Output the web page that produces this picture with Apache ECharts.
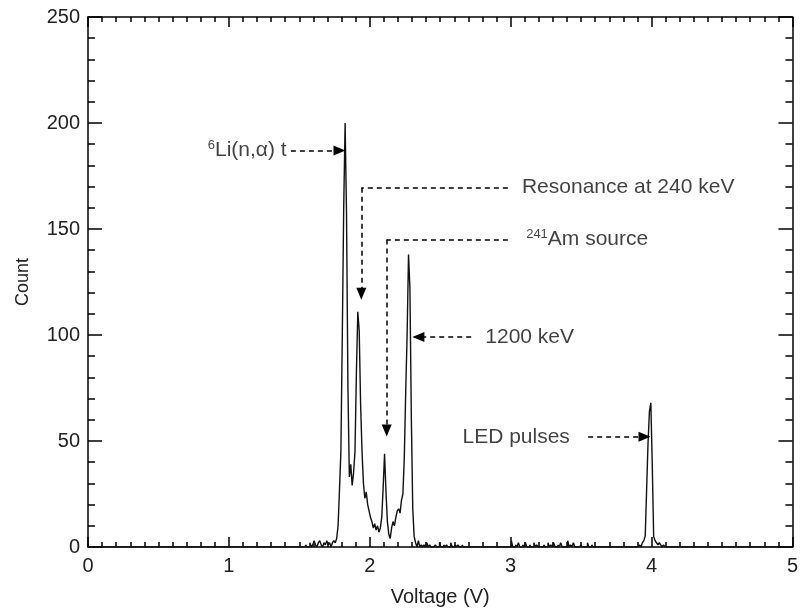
<!DOCTYPE html>
<html>
<head>
<meta charset="utf-8">
<script src="https://cdn.jsdelivr.net/npm/echarts@6/dist/echarts.min.js"></script>
<style>
html,body{margin:0;padding:0;background:#fff;}
#chart{width:801px;height:612px;}
</style>
</head>
<body>
<div id="chart"></div>
<script>
// Histogram bins (bin centre voltage, V) with non-zero counts; all other bins are empty (0)
const binVoltage = [
  1.55,1.58,1.60,1.61,1.62,1.64,1.65,1.66,1.68,1.69,1.70,1.71,1.72,1.74,1.75,1.76,
  1.77,1.78,1.79,1.80,1.81,1.82,1.83,1.84,1.85,1.86,1.87,1.88,1.89,1.90,
  1.91,1.92,1.93,1.94,1.95,1.96,1.97,1.98,1.99,2.00,2.01,2.02,2.03,2.04,2.05,2.06,2.07,2.08,
  2.09,2.10,2.11,2.12,2.13,2.14,2.15,2.16,2.17,2.18,2.19,2.20,2.21,2.22,2.23,2.24,
  2.25,2.26,2.27,2.28,2.29,2.30,2.31,2.32,2.33,2.35,2.37,2.39,2.41,2.43,
  2.47,2.50,2.53,2.55,2.58,2.61,2.63,2.66,
  3.01,3.04,3.06,3.09,3.11,3.14,3.17,3.19,3.24,3.27,3.29,3.31,3.34,3.36,3.41,3.43,3.45,3.50,3.55,3.58,
  3.92,3.94,3.95,3.96,3.97,3.98,3.99,4.00,4.01,4.02,4.03,4.04,4.05,4.06,4.07,4.09
];
const binCount = [
  1,2,1,3,1,2,3,1,2,1,3,1,2,2,3,2,
  4,10,27,45,100,160,200,157,75,33,39,29,35,45,
  82,111,102,67,45,30,23,26,20,17,14,12,9,11,8,10,7,9,
  14,28,44,26,12,6,4,9,12,10,14,17,18,16,22,25,
  42,73,100,138,122,61,18,5,2,3,1,1,2,1,
  1,2,1,1,2,1,1,1,
  3,1,2,1,2,1,2,1,1,2,1,2,1,2,3,1,2,1,2,1,
  1,2,3,5,27,49,64,68,39,5,3,2,1,2,1,1
];
const binWidth = 0.01;
const xRange = [0, 5];
const yRange = [0, 250];

// Annotation arrows (data coordinates; the end point is the centre of the arrow head)
const annoLines = [
  // [x1, y1, x2, y2, arrowAtEnd]
  [1.44, 187, 1.785, 187, true],
  [2.98, 169.5, 1.94, 169.5, false],
  [1.94, 169.5, 1.94, 119.5, true],
  [2.98, 145, 2.12, 145, false],
  [2.12, 145, 2.12, 55, true],
  [2.72, 99, 2.345, 99, true],
  [3.55, 52, 3.95, 52, true]
];
const annoText = ['{sup|6}Li(n,\u03b1) t', 'Resonance at 240 keV', '{sup|241}Am source', '1200 keV', 'LED pulses'];
const annoX = [1.41, 3.08, 3.11, 2.82, 3.42];
const annoY = [187, 169.5, 145, 99, 52];
const annoSide = ['left', 'right', 'right', 'right', 'left'];

// Build the full histogram over the axis range
const countMap = {};
binVoltage.forEach((v, i) => { countMap[v.toFixed(2)] = binCount[i]; });
const histData = [];
for (let i = 0; i <= 500; i++) {
  const v = i * binWidth;
  histData.push([v, countMap[v.toFixed(2)] || 0]);
}

const font = 'Liberation Sans, Arial, sans-serif';
const axisCommon = (pos, showLabel, isX) => ({
  type: 'value',
  position: pos,
  min: isX ? xRange[0] : yRange[0],
  max: isX ? xRange[1] : yRange[1],
  interval: isX ? 1 : 50,
  axisLine: { show: true, onZero: false, lineStyle: { color: '#000', width: 1.5 } },
  axisTick: { show: true, inside: true, length: isX ? 10 : 14, lineStyle: { color: '#000', width: 1.5 } },
  minorTick: { show: true, splitNumber: isX ? 10 : 5, length: isX ? 5 : 7, lineStyle: { color: '#000', width: 1.5 } },
  splitLine: { show: false },
  minorSplitLine: { show: false },
  axisLabel: { show: showLabel, color: '#222', fontFamily: font, fontSize: 20, margin: isX ? 9 : 8 }
});

const xAxisBottom = Object.assign(axisCommon('bottom', true, true), {
  name: 'Voltage (V)', nameLocation: 'middle', nameGap: 40,
  nameTextStyle: { color: '#222', fontFamily: font, fontSize: 20 }
});
const xAxisTop = axisCommon('top', false, true);
const yAxisLeft = Object.assign(axisCommon('left', true, false), {
  name: 'Count', nameLocation: 'middle', nameGap: 56,
  nameTextStyle: { color: '#222', fontFamily: font, fontSize: 18 }
});
const yAxisRight = axisCommon('right', false, false);

const markLineData = annoLines.map(l => [
  { coord: [l[0], l[1]], symbol: 'none' },
  { coord: [l[2], l[3]], symbol: l[4] ? 'triangle' : 'none', symbolSize: [10, 12] }
]);

const chart = echarts.init(document.getElementById('chart'), null, { renderer: 'canvas' });
chart.setOption({
  animation: false,
  backgroundColor: '#fff',
  grid: { left: 88, right: 4, top: 17, bottom: 55, containLabel: false },
  xAxis: [xAxisBottom, xAxisTop],
  yAxis: [yAxisLeft, yAxisRight],
  series: [
    {
      type: 'line',
      step: 'middle',
      data: histData,
      showSymbol: false,
      symbol: 'none',
      lineStyle: { color: '#111', width: 1.4 },
      silent: true,
      markLine: {
        silent: true,
        animation: false,
        symbol: ['none', 'none'],
        label: { show: false },
        lineStyle: { color: '#000', width: 1.5, type: [5, 4] },
        data: markLineData
      }
    },
    {
      type: 'scatter',
      symbolSize: 0,
      silent: true,
      data: annoText.map((t, i) => ({
        value: [annoX[i], annoY[i]],
        label: {
          show: true,
          position: annoSide[i],
          distance: 0,
          formatter: t,
          color: '#111',
          fontFamily: font,
          fontSize: 21,
          lineHeight: 24,
          rich: {
            sup: { fontSize: 13, fontFamily: font, color: '#111', verticalAlign: 'top', lineHeight: 13 }
          }
        }
      }))
    }
  ]
});
</script>
</body>
</html>
